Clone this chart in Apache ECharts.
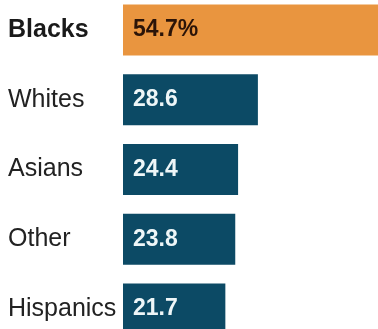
<!DOCTYPE html>
<html>
<head>
	<meta charset="UTF-8">
	<title></title>
	<script type="text/javascript" src="https://cdn.jsdelivr.net/npm/echarts@6/dist/echarts.min.js"></script>
	<style type="text/css">
		html,body{margin:0; padding:0; background:#fff;}
		#chart1{width:378px; height:329px;}
	</style>
</head>
<body>
	<div id="chart1"></div>
	<script type="text/javascript">
		var groups = ['Blacks', 'Whites', 'Asians', 'Other', 'Hispanics'];
		var rates = [54.7, 28.6, 24.4, 23.8, 21.7];
		var valueText = ['54.7%', '28.6', '24.4', '23.8', '21.7'];

		var myChart = echarts.init(document.getElementById('chart1'));

		var barData = rates.map(function(v, i){
			var first = i === 0;
			return {
				value: v,
				itemStyle: {color: first ? '#e9953f' : '#0c4a65'},
				label: {color: first ? '#2b1408' : '#eef6f8'}
			};
		});

		var option = {
			animation: false,
			backgroundColor: '#fff',
			grid: {left: 123, right: -28, top: -5, bottom: -15, outerBoundsMode: 'none'},
			xAxis: {type: 'value', min: 0, max: 60, show: false},
			yAxis: {
				type: 'category',
				data: groups,
				inverse: true,
				axisLine: {show: false},
				axisTick: {show: false},
				axisLabel: {
					align: 'left',
					margin: 115,
					fontFamily: 'Liberation Sans',
					fontSize: 25,
					color: '#222',
					formatter: function(v){ return v === groups[0] ? '{b|' + v + '}' : v; },
					rich: {b: {fontWeight: 'bold', fontSize: 25, fontFamily: 'Liberation Sans', color: '#1a1a1a'}}
				}
			},
			series: [{
				type: 'bar',
				data: barData,
				barWidth: 51,
				label: {
					show: true,
					position: 'insideLeft',
					distance: 10,
					fontFamily: 'Liberation Sans',
					fontWeight: 'bold',
					fontSize: 23,
					formatter: function(p){ return valueText[p.dataIndex]; }
				}
			}]
		};
		myChart.setOption(option);
	</script>
</body>
</html>
